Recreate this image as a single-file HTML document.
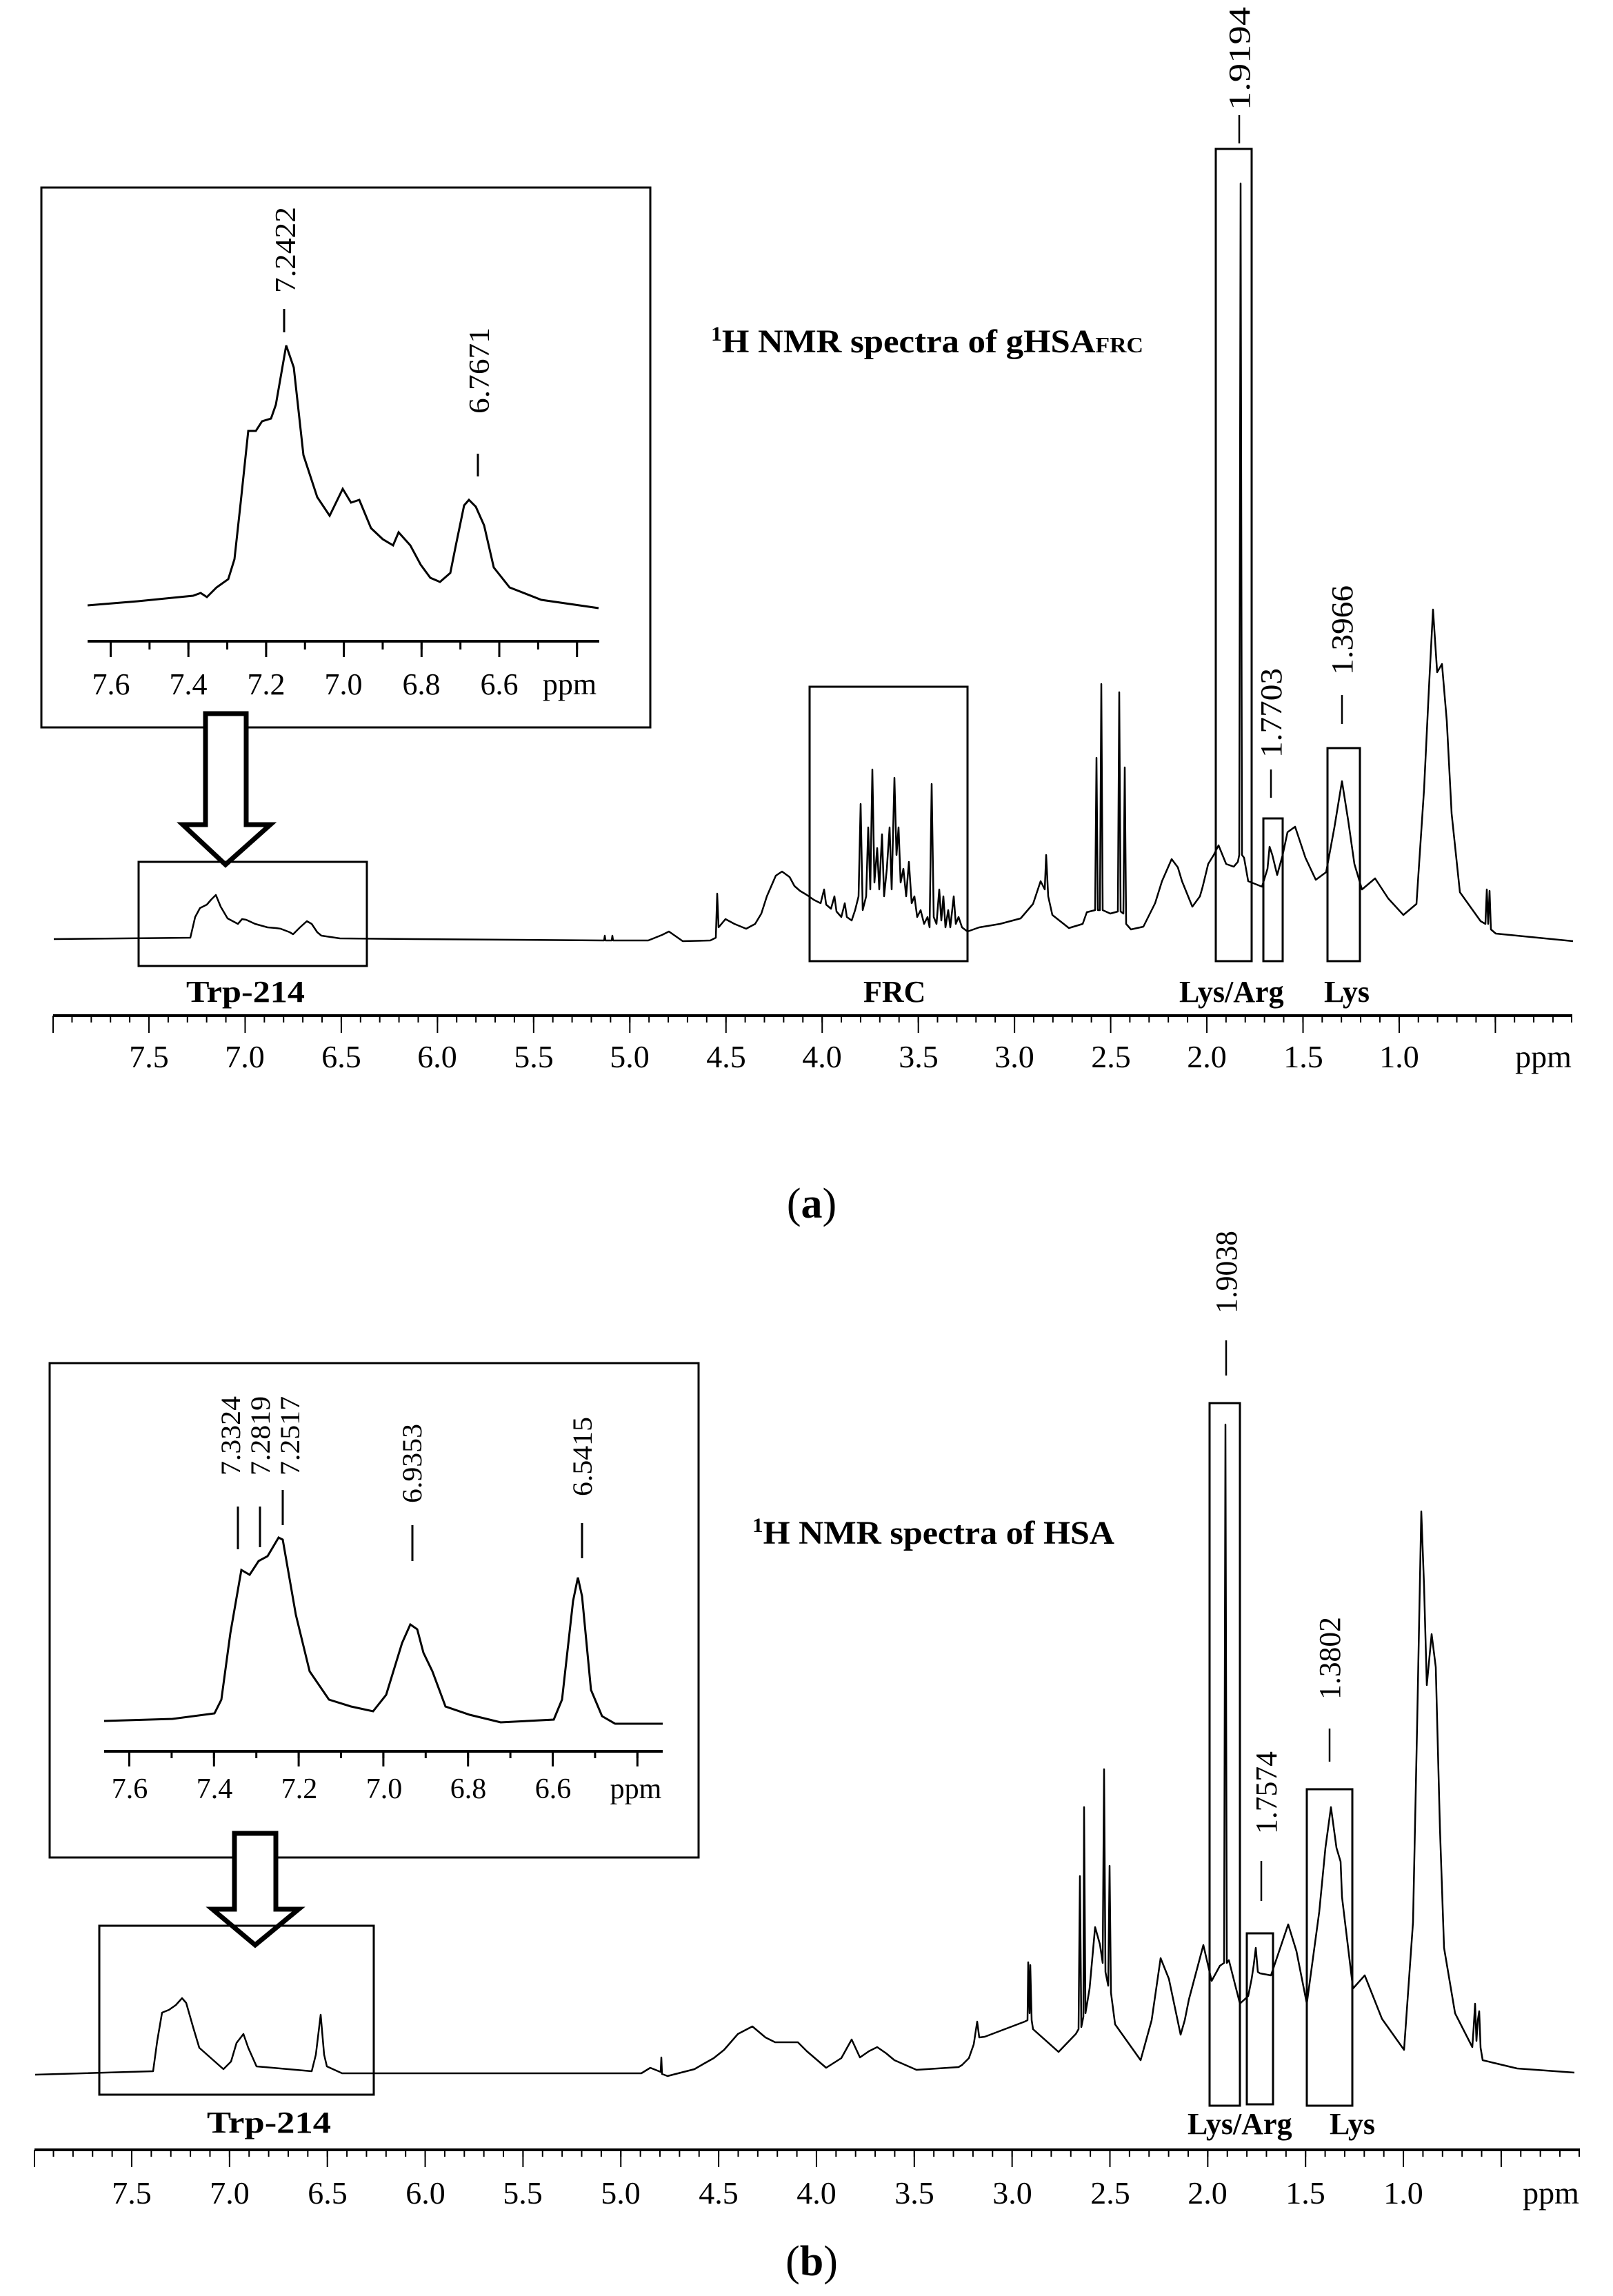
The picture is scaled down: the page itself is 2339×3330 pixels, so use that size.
<!DOCTYPE html>
<html><head><meta charset="utf-8"><style>html,body{margin:0;padding:0;background:#fff}svg{display:block}</style></head>
<body>
<svg xmlns="http://www.w3.org/2000/svg" width="2339" height="3330" viewBox="0 0 2339 3330" font-family="'Liberation Serif', serif">
<defs>
<pattern id="amin" patternUnits="userSpaceOnUse" x="215" y="0" width="27.89" height="3330"><rect x="0" y="0" width="2" height="3330" fill="#000"/></pattern>
<pattern id="amaj" patternUnits="userSpaceOnUse" x="215" y="0" width="139.46" height="3330"><rect x="0" y="0" width="2" height="3330" fill="#000"/></pattern>
<pattern id="bmin" patternUnits="userSpaceOnUse" x="190" y="0" width="28.37" height="3330"><rect x="0" y="0" width="2" height="3330" fill="#000"/></pattern>
<pattern id="bmaj" patternUnits="userSpaceOnUse" x="190" y="0" width="141.85" height="3330"><rect x="0" y="0" width="2" height="3330" fill="#000"/></pattern>
<pattern id="iamin" patternUnits="userSpaceOnUse" x="159" y="0" width="56.35" height="3330"><rect x="0" y="0" width="3" height="3330" fill="#000"/></pattern>
<pattern id="iamaj" patternUnits="userSpaceOnUse" x="159" y="0" width="112.7" height="3330"><rect x="0" y="0" width="3" height="3330" fill="#000"/></pattern>
<pattern id="ibmin" patternUnits="userSpaceOnUse" x="186" y="0" width="61.4" height="3330"><rect x="0" y="0" width="3" height="3330" fill="#000"/></pattern>
<pattern id="ibmaj" patternUnits="userSpaceOnUse" x="186" y="0" width="122.8" height="3330"><rect x="0" y="0" width="3" height="3330" fill="#000"/></pattern>
</defs>
<rect width="2339" height="3330" fill="#fff"/>

<!-- ================= PANEL A ================= -->
<rect x="60" y="272" width="883" height="783" fill="none" stroke="#000" stroke-width="3"/>
<polyline fill="none" stroke="#000" stroke-width="3" points="127,878 200,872 280,864 291,860 300,866 314,852 331,840 340,811 349,729 360,625 371,625 380,611 393,607 400,587 415,501 426,533 440,660 460,721 478,748 497,709 509,729 521,725 538,766 555,782 570,791 578,772 595,791 610,819 624,838 638,844 653,831 661,791 673,733 680,725 690,735 702,762 716,823 739,852 785,870 868,882"/>
<line x1="127" y1="930" x2="869" y2="930" stroke="#000" stroke-width="4"/>
<rect x="127" y="930" width="742" height="12" fill="url(#iamin)"/>
<rect x="127" y="930" width="742" height="23" fill="url(#iamaj)"/>
<g font-size="44" text-anchor="middle">
<text x="161" y="1007">7.6</text><text x="273" y="1007">7.4</text><text x="386" y="1007">7.2</text><text x="498" y="1007">7.0</text><text x="611" y="1007">6.8</text><text x="724" y="1007">6.6</text><text x="826" y="1007">ppm</text>
</g>
<line x1="412" y1="448" x2="412" y2="482" stroke="#000" stroke-width="3"/>
<line x1="693" y1="658" x2="693" y2="691" stroke="#000" stroke-width="3"/>
<text transform="translate(428,425) rotate(-90)" font-size="42" textLength="125" lengthAdjust="spacingAndGlyphs">7.2422</text>
<text transform="translate(709,600) rotate(-90)" font-size="42" textLength="125" lengthAdjust="spacingAndGlyphs">6.7671</text>

<polygon points="298,1035 357,1035 357,1196 392,1196 327,1254 265,1196 298,1196" fill="#fff" stroke="#000" stroke-width="7"/>

<text x="1031" y="511" font-size="48" font-weight="bold" textLength="627" lengthAdjust="spacingAndGlyphs"><tspan font-size="30" dy="-17">1</tspan><tspan dy="17">H NMR spectra of gHSA</tspan><tspan font-size="32">FRC</tspan></text>

<rect x="201" y="1250" width="331" height="151" fill="none" stroke="#000" stroke-width="3"/>
<rect x="1174" y="996" width="229" height="398" fill="none" stroke="#000" stroke-width="3"/>
<rect x="1763" y="216" width="52" height="1178" fill="none" stroke="#000" stroke-width="3"/>
<rect x="1832" y="1187" width="28" height="207" fill="none" stroke="#000" stroke-width="3"/>
<rect x="1925" y="1085" width="47" height="309" fill="none" stroke="#000" stroke-width="3"/>

<polyline fill="none" stroke="#000" stroke-width="2.5" stroke-linejoin="round" points="78,1362 276,1360 283,1330 290,1317 300,1312 306,1305 313,1298 320,1315 330,1332 345,1340 351,1333 357,1334 370,1340 388,1345 400,1346 407,1347 420,1352 425,1355 435,1345 445,1336 452,1340 460,1352 466,1357 493,1361 600,1362 876,1364 877,1357 878,1364 887,1364 888,1357 889,1364 940,1364 960,1356 970,1351 980,1358 990,1365 1030,1364 1038,1360 1040,1296 1042,1345 1052,1333 1065,1340 1082,1347 1095,1340 1104,1325 1112,1300 1125,1270 1134,1264 1145,1272 1152,1285 1160,1292 1170,1298 1180,1305 1190,1310 1195,1290 1198,1312 1205,1318 1210,1300 1213,1322 1220,1330 1225,1310 1228,1330 1235,1335 1240,1320 1245,1300 1248,1166 1251,1320 1256,1300 1259,1200 1262,1290 1265,1116 1268,1280 1272,1230 1275,1290 1279,1210 1282,1300 1286,1260 1290,1200 1293,1290 1297,1128 1300,1240 1303,1200 1306,1280 1310,1260 1314,1300 1318,1250 1322,1310 1326,1300 1330,1330 1335,1320 1340,1340 1345,1330 1348,1345 1351,1137 1354,1330 1358,1340 1362,1290 1365,1335 1368,1300 1371,1345 1375,1320 1378,1345 1383,1300 1386,1340 1390,1330 1395,1345 1403,1351 1420,1345 1450,1340 1480,1332 1498,1311 1509,1278 1515,1290 1517,1240 1520,1300 1526,1327 1550,1346 1570,1340 1576,1323 1588,1320 1590,1099 1592,1320 1595,1320 1597,992 1599,1320 1610,1325 1621,1322 1623,1004 1625,1322 1629,1325 1631,1113 1633,1340 1640,1348 1658,1344 1675,1310 1685,1278 1699,1246 1708,1258 1714,1278 1729,1315 1740,1300 1744,1286 1752,1253 1760,1240 1767,1226 1778,1253 1789,1257 1795,1250 1797,1240 1799,266 1801,1240 1804,1244 1810,1278 1830,1286 1838,1260 1841,1228 1845,1240 1852,1269 1860,1240 1867,1207 1878,1199 1893,1244 1908,1276 1923,1265 1935,1200 1946,1133 1955,1190 1964,1253 1975,1290 1994,1274 2013,1303 2035,1327 2054,1311 2065,1145 2072,1000 2078,884 2084,975 2091,963 2098,1046 2105,1180 2117,1294 2147,1336 2154,1340 2156,1290 2158,1340 2160,1292 2162,1348 2169,1354 2281,1365"/>

<line x1="1797" y1="167" x2="1797" y2="208" stroke="#000" stroke-width="2.5"/>
<text transform="translate(1812,160) rotate(-90)" font-size="44" textLength="150" lengthAdjust="spacingAndGlyphs">1.9194</text>
<line x1="1843" y1="1116" x2="1843" y2="1157" stroke="#000" stroke-width="2.5"/>
<text transform="translate(1858,1099) rotate(-90)" font-size="44" textLength="130" lengthAdjust="spacingAndGlyphs">1.7703</text>
<line x1="1946" y1="1008" x2="1946" y2="1050" stroke="#000" stroke-width="2.5"/>
<text transform="translate(1961,979) rotate(-90)" font-size="44" textLength="130" lengthAdjust="spacingAndGlyphs">1.3966</text>

<g font-size="44" font-weight="bold">
<text x="270" y="1453" textLength="172" lengthAdjust="spacingAndGlyphs">Trp-214</text>
<text x="1252" y="1453">FRC</text>
<text x="1710" y="1453">Lys/Arg</text>
<text x="1920" y="1453">Lys</text>
</g>

<rect x="77" y="1471" width="2203" height="4" fill="#000"/>
<rect x="77" y="1473" width="2203" height="10" fill="url(#amin)"/>
<rect x="77" y="1473" width="2203" height="25" fill="url(#amaj)"/>
<rect x="76" y="1473" width="2" height="25" fill="#000"/>
<rect x="2278" y="1473" width="2" height="10" fill="#000"/>
<g font-size="46" text-anchor="middle">
<text x="216" y="1548">7.5</text><text x="355" y="1548">7.0</text><text x="495" y="1548">6.5</text><text x="634" y="1548">6.0</text><text x="774" y="1548">5.5</text><text x="913" y="1548">5.0</text><text x="1053" y="1548">4.5</text><text x="1192" y="1548">4.0</text><text x="1332" y="1548">3.5</text><text x="1471" y="1548">3.0</text><text x="1611" y="1548">2.5</text><text x="1750" y="1548">2.0</text><text x="1890" y="1548">1.5</text><text x="2029" y="1548">1.0</text>
<text x="2238" y="1548">ppm</text>
</g>
<text x="1177" y="1766" font-size="62" text-anchor="middle">(<tspan font-weight="bold">a</tspan>)</text>

<!-- ================= PANEL B ================= -->
<rect x="72" y="1977" width="941" height="717" fill="none" stroke="#000" stroke-width="3"/>
<polyline fill="none" stroke="#000" stroke-width="3" points="151,2496 250,2493 311,2485 321,2465 334,2369 350,2277 362,2284 375,2264 388,2257 404,2230 410,2233 429,2342 449,2424 477,2465 509,2475 541,2482 560,2458 583,2383 595,2356 605,2363 614,2397 627,2424 646,2475 681,2487 726,2498 803,2494 815,2465 831,2322 838,2288 844,2315 857,2451 873,2489 892,2500 961,2500"/>
<line x1="151" y1="2540" x2="961" y2="2540" stroke="#000" stroke-width="4"/>
<rect x="151" y="2540" width="810" height="10" fill="url(#ibmin)"/>
<rect x="151" y="2540" width="810" height="22" fill="url(#ibmaj)"/>
<g font-size="42" text-anchor="middle">
<text x="188" y="2608">7.6</text><text x="311" y="2608">7.4</text><text x="434" y="2608">7.2</text><text x="557" y="2608">7.0</text><text x="679" y="2608">6.8</text><text x="802" y="2608">6.6</text><text x="922" y="2608">ppm</text>
</g>
<g stroke="#000" stroke-width="3">
<line x1="345" y1="2185" x2="345" y2="2247"/>
<line x1="377" y1="2185" x2="377" y2="2244"/>
<line x1="410" y1="2161" x2="410" y2="2212"/>
<line x1="598" y1="2212" x2="598" y2="2264"/>
<line x1="844" y1="2209" x2="844" y2="2260"/>
</g>
<g font-size="40">
<text transform="translate(348,2140) rotate(-90)" textLength="115" lengthAdjust="spacingAndGlyphs">7.3324</text>
<text transform="translate(391,2140) rotate(-90)" textLength="115" lengthAdjust="spacingAndGlyphs">7.2819</text>
<text transform="translate(434,2140) rotate(-90)" textLength="115" lengthAdjust="spacingAndGlyphs">7.2517</text>
<text transform="translate(611,2180) rotate(-90)" textLength="115" lengthAdjust="spacingAndGlyphs">6.9353</text>
<text transform="translate(858,2170) rotate(-90)" textLength="115" lengthAdjust="spacingAndGlyphs">6.5415</text>
</g>

<polygon points="340,2659 400,2659 400,2769 433,2769 370,2821 308,2769 340,2769" fill="#fff" stroke="#000" stroke-width="7"/>

<text x="1091" y="2239" font-size="48" font-weight="bold" textLength="525" lengthAdjust="spacingAndGlyphs"><tspan font-size="30" dy="-17">1</tspan><tspan dy="17">H NMR spectra of HSA</tspan></text>

<rect x="144" y="2793" width="398" height="245" fill="none" stroke="#000" stroke-width="3"/>
<rect x="1754" y="2035" width="44" height="1019" fill="none" stroke="#000" stroke-width="3"/>
<rect x="1808" y="2804" width="38" height="248" fill="none" stroke="#000" stroke-width="3"/>
<rect x="1895" y="2595" width="66" height="459" fill="none" stroke="#000" stroke-width="3"/>

<polyline fill="none" stroke="#000" stroke-width="2.5" stroke-linejoin="round" points="51,3009 222,3004 228,2960 235,2919 245,2915 255,2908 264,2898 270,2905 280,2940 289,2970 324,3001 335,2990 343,2963 353,2950 360,2970 372,2997 452,3004 458,2980 465,2922 470,2980 474,2997 496,3007 930,3007 943,2999 958,3005 959,2984 960,3008 968,3011 1007,3001 1019,2994 1035,2985 1050,2973 1070,2950 1091,2939 1110,2955 1124,2962 1157,2962 1170,2975 1198,2999 1220,2985 1235,2958 1247,2984 1260,2975 1272,2969 1285,2978 1297,2988 1329,3002 1390,2998 1395,2995 1405,2985 1412,2965 1417,2932 1420,2955 1428,2954 1486,2932 1490,2930 1491,2846 1493,2920 1494,2850 1496,2930 1498,2943 1535,2976 1560,2950 1564,2943 1566,2721 1568,2940 1571,2925 1572,2621 1574,2920 1580,2884 1588,2795 1595,2820 1599,2847 1601,2566 1603,2860 1607,2880 1609,2706 1611,2890 1617,2936 1654,2988 1670,2930 1683,2840 1695,2870 1712,2951 1718,2930 1724,2900 1745,2821 1757,2873 1769,2851 1775,2847 1777,2066 1779,2847 1782,2843 1798,2906 1810,2895 1815,2870 1818,2850 1821,2825 1824,2860 1827,2862 1843,2865 1868,2791 1880,2830 1895,2906 1913,2773 1922,2680 1930,2621 1938,2680 1944,2700 1946,2751 1962,2884 1979,2865 2004,2928 2036,2973 2049,2788 2055,2500 2061,2192 2065,2300 2069,2444 2076,2370 2082,2418 2088,2650 2094,2825 2110,2920 2135,2969 2137,2940 2139,2906 2141,2960 2143,2930 2145,2917 2147,2970 2150,2988 2200,3000 2283,3006"/>

<line x1="1778" y1="1944" x2="1778" y2="1995" stroke="#000" stroke-width="2.5"/>
<text transform="translate(1793,1905) rotate(-90)" font-size="44" textLength="120" lengthAdjust="spacingAndGlyphs">1.9038</text>
<line x1="1829" y1="2699" x2="1829" y2="2757" stroke="#000" stroke-width="2.5"/>
<text transform="translate(1851,2660) rotate(-90)" font-size="44" textLength="120" lengthAdjust="spacingAndGlyphs">1.7574</text>
<line x1="1928" y1="2507" x2="1928" y2="2555" stroke="#000" stroke-width="2.5"/>
<text transform="translate(1943,2465) rotate(-90)" font-size="44" textLength="120" lengthAdjust="spacingAndGlyphs">1.3802</text>

<g font-size="44" font-weight="bold">
<text x="300" y="3093" textLength="180" lengthAdjust="spacingAndGlyphs">Trp-214</text>
<text x="1722" y="3095">Lys/Arg</text>
<text x="1928" y="3095">Lys</text>
</g>

<rect x="50" y="3116" width="2241" height="4" fill="#000"/>
<rect x="50" y="3118" width="2241" height="10" fill="url(#bmin)"/>
<rect x="50" y="3118" width="2241" height="25" fill="url(#bmaj)"/>
<rect x="49" y="3118" width="2" height="25" fill="#000"/>
<rect x="2289" y="3118" width="2" height="10" fill="#000"/>
<g font-size="46" text-anchor="middle">
<text x="191" y="3196">7.5</text><text x="333" y="3196">7.0</text><text x="475" y="3196">6.5</text><text x="617" y="3196">6.0</text><text x="758" y="3196">5.5</text><text x="900" y="3196">5.0</text><text x="1042" y="3196">4.5</text><text x="1184" y="3196">4.0</text><text x="1326" y="3196">3.5</text><text x="1468" y="3196">3.0</text><text x="1610" y="3196">2.5</text><text x="1751" y="3196">2.0</text><text x="1893" y="3196">1.5</text><text x="2035" y="3196">1.0</text>
<text x="2249" y="3196">ppm</text>
</g>
<text x="1177" y="3300" font-size="62" text-anchor="middle">(<tspan font-weight="bold">b</tspan>)</text>
</svg>
</body></html>
